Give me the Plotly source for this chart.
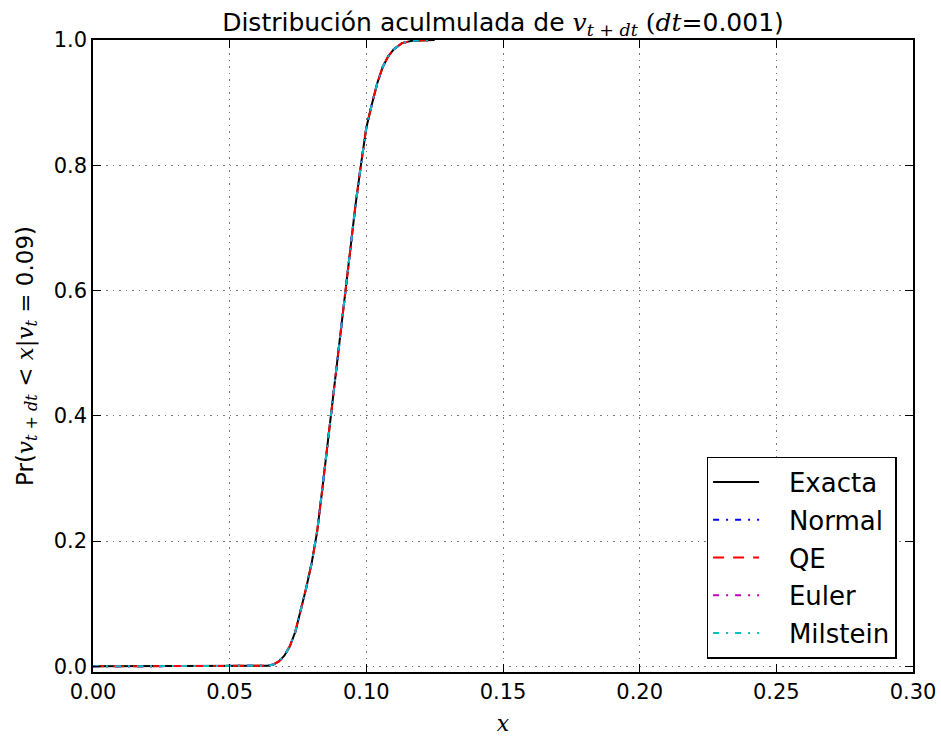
import plotly.graph_objects as go

# Empirical / exact CDF of v_{t+dt} given v_t = 0.09
x_vals = [0.000, 0.020, 0.040, 0.060, 0.064, 0.066, 0.068, 0.070, 0.072, 0.074,
          0.076, 0.078, 0.080, 0.082, 0.084, 0.086, 0.088, 0.090, 0.092, 0.094,
          0.096, 0.098, 0.100, 0.102, 0.104, 0.106, 0.108, 0.110, 0.113, 0.117,
          0.122, 0.125]
cdf_exacta = [0.000, 0.000, 0.000, 0.000, 0.001, 0.003, 0.008, 0.017, 0.032, 0.055,
              0.088, 0.125, 0.165, 0.215, 0.287, 0.362, 0.435, 0.512, 0.595, 0.665,
              0.735, 0.800, 0.860, 0.897, 0.931, 0.957, 0.974, 0.985, 0.995, 0.999,
              1.000, 1.000]
cdf_normal = list(cdf_exacta)
cdf_qe = list(cdf_exacta)
cdf_euler = list(cdf_exacta)
cdf_milstein = list(cdf_exacta)

series_names = ["Exacta", "Normal", "QE", "Euler", "Milstein"]
series_values = [cdf_exacta, cdf_normal, cdf_qe, cdf_euler, cdf_milstein]
series_colors = ["#000000", "#0000ff", "#ff0000", "#bf00bf", "#00bfbf"]
series_dash = ["solid", "6px,7px,2px,7px", "11px,9px", "6px,7px,2px,7px", "6px,7px,2px,7px"]

x_ticks = [0.00, 0.05, 0.10, 0.15, 0.20, 0.25, 0.30]
y_ticks = [0.0, 0.2, 0.4, 0.6, 0.8, 1.0]

SANS = "DejaVu Sans"
SERIF = "DejaVu Serif"


def it(s):
    return f'<span style="font-family:{SERIF}"><i>{s}</i></span>'


def rm(s):
    return f'<span style="font-family:{SERIF}">{s}</span>'


fig = go.Figure()
for name, vals, col, dash in zip(series_names, series_values, series_colors, series_dash):
    fig.add_trace(go.Scatter(
        x=x_vals, y=vals, mode="lines",
        name="&nbsp;&nbsp;&nbsp;" + name,
        line=dict(color=col, width=2, dash=dash),
        legendgroup=name,
    ))

title_text = ("Distribución aculmulada de " + it("v") + "<sub>" + it("t") + rm(" + ") + it("dt") + "</sub> "
              + rm("(") + it("dt") + rm("=") + "0.001)")
ylabel = ("Pr(" + it("v") + "<sub>" + it("t") + rm(" + ") + it("dt") + "</sub>" + rm(" &lt; ") + it("x")
          + rm("|") + it("v") + "<sub>" + it("t") + "</sub>" + rm(" = ") + "0.09)")

axis_common = dict(
    showline=True, linecolor="black", linewidth=1.5, mirror="ticks",
    ticks="inside", ticklen=8, tickwidth=1, tickcolor="black",
    showgrid=True, gridcolor="#777777", gridwidth=1, griddash="1.5px,5px",
    zeroline=False, automargin=False,
    tickfont=dict(family=SANS, size=21, color="black"),
)

fig.update_layout(
    width=941, height=737,
    margin=dict(l=93, r=28, t=40, b=65),
    paper_bgcolor="white", plot_bgcolor="white",
    font=dict(family=SANS, color="black"),
    title=dict(text=title_text, x=(93 + 913) / 2 / 941, xanchor="center",
               y=1 - 22 / 737, yanchor="middle", yref="container",
               font=dict(family=SANS, size=25, color="black")),
    xaxis=dict(range=[0, 0.30], tickvals=x_ticks, ticktext=[f"{v:.2f}" for v in x_ticks],
               title=dict(text=it("x"), font=dict(size=22), standoff=13),
               **axis_common),
    yaxis=dict(range=[-0.009, 1.0], tickvals=y_ticks, ticktext=[f"{v:.1f}" for v in y_ticks],
               title=dict(text=ylabel, font=dict(size=23), standoff=14),
               **axis_common),
    legend=dict(x=0.980, y=0.0206, xanchor="right", yanchor="bottom",
                bgcolor="white", bordercolor="black", borderwidth=1.5,
                font=dict(family=SANS, size=26, color="black"),
                traceorder="grouped", tracegroupgap=1, itemwidth=46),
    showlegend=True,
)

fig.write_html("out.html")
